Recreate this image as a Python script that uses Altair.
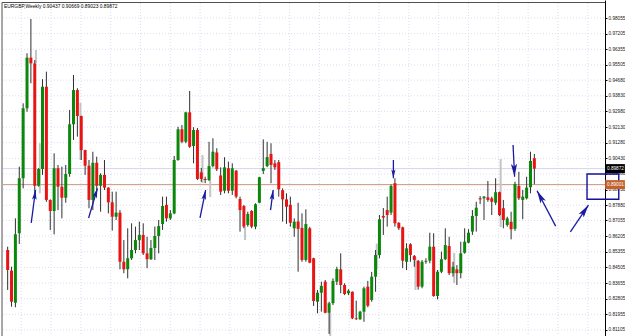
import altair as alt
import pandas as pd

# ---------------- data ----------------
opens = [0.8545, 0.8433, 0.8259, 0.8636, 0.8935, 0.9315, 0.9590, 0.9559, 0.8894, 0.8985,
         0.9432, 0.8817, 0.8757, 0.8989, 0.8889, 0.8829, 0.8958, 0.9228, 0.9414, 0.9273,
         0.9088, 0.9003, 0.8817, 0.9019, 0.8894, 0.8953, 0.8884, 0.8804, 0.8726, 0.8748,
         0.8481, 0.8440, 0.8500, 0.8545, 0.8599, 0.8627, 0.8527, 0.8495, 0.8556, 0.8621,
         0.8686, 0.8790, 0.8717, 0.8744, 0.9034, 0.9201, 0.9133, 0.9293, 0.9110, 0.9197,
         0.8967, 0.8931, 0.8925, 0.9001, 0.9075, 0.8950, 0.8867, 0.8989, 0.8867, 0.8976,
         0.8822, 0.8784, 0.8681, 0.8757, 0.8672, 0.8802, 0.8975, 0.9001, 0.9067, 0.9016,
         0.9022, 0.8870, 0.8820, 0.8790, 0.8663, 0.8700, 0.8665, 0.8491, 0.8663, 0.8500,
         0.8264, 0.8313, 0.8373, 0.8204, 0.8256, 0.8373, 0.8440, 0.8355, 0.8310, 0.8318,
         0.8174, 0.8169, 0.8210, 0.8346, 0.8273, 0.8400, 0.8518, 0.8730, 0.8762, 0.8748,
         0.8908, 0.8693, 0.8668, 0.8481, 0.8576, 0.8513, 0.8486, 0.8346, 0.8481, 0.8487,
         0.8563, 0.8295, 0.8427, 0.8495, 0.8567, 0.8419, 0.8440, 0.8419, 0.8530, 0.8585,
         0.8645, 0.8730, 0.8826, 0.8826, 0.8831, 0.8826, 0.8802, 0.8859, 0.8772, 0.8681,
         0.8699, 0.8660, 0.8893, 0.8817, 0.8826, 0.8886, 0.90437]
highs = [0.8563, 0.8454, 0.8717, 0.8998, 0.9342, 0.9614, 0.9800, 0.9577, 0.8990, 0.9473,
         0.9514, 0.8820, 0.9070, 0.9007, 0.8998, 0.9007, 0.9306, 0.9496, 0.9424, 0.9275,
         0.9090, 0.9034, 0.9079, 0.9052, 0.8962, 0.9034, 0.8886, 0.8862, 0.8862, 0.8762,
         0.8599, 0.8663, 0.8690, 0.8672, 0.8699, 0.8690, 0.8617, 0.8599, 0.8672, 0.8708,
         0.8835, 0.8835, 0.8762, 0.9056, 0.9215, 0.9224, 0.9296, 0.9409, 0.9212, 0.9208,
         0.8991, 0.8943, 0.9133, 0.9152, 0.9098, 0.8994, 0.9049, 0.9025, 0.9016, 0.8980,
         0.8835, 0.8790, 0.8753, 0.8762, 0.8799, 0.8943, 0.9146, 0.9133, 0.9125, 0.9034,
         0.9034, 0.8880, 0.8853, 0.8835, 0.8717, 0.8802, 0.8744, 0.8766, 0.8671, 0.8503,
         0.8328, 0.8373, 0.8382, 0.8264, 0.8391, 0.8454, 0.8527, 0.8364, 0.8332, 0.8320,
         0.8270, 0.8215, 0.8346, 0.8377, 0.8426, 0.8545, 0.8735, 0.8773, 0.8835, 0.8901,
         0.8935, 0.8696, 0.8672, 0.8582, 0.8582, 0.8518, 0.8491, 0.8491, 0.8500, 0.8639,
         0.8636, 0.8436, 0.8536, 0.8663, 0.8617, 0.8481, 0.8463, 0.8590, 0.8663, 0.8658,
         0.8762, 0.8807, 0.8838, 0.8838, 0.8920, 0.8835, 0.8935, 0.8862, 0.8817, 0.8726,
         0.8753, 0.8916, 0.8970, 0.8871, 0.8943, 0.9079, 0.90669]
lows = [0.8328, 0.8237, 0.8234, 0.8578, 0.8880, 0.9296, 0.9451, 0.8853, 0.8889, 0.8953,
        0.8807, 0.8654, 0.8630, 0.8762, 0.8717, 0.8802, 0.8943, 0.9143, 0.9161, 0.9034,
        0.8953, 0.8772, 0.8762, 0.8871, 0.8753, 0.8871, 0.8744, 0.8650, 0.8708, 0.8440,
        0.8419, 0.8391, 0.8491, 0.8527, 0.8545, 0.8518, 0.8446, 0.8491, 0.8491, 0.8527,
        0.8654, 0.8699, 0.8708, 0.8739, 0.9030, 0.9125, 0.9125, 0.9100, 0.9016, 0.8925,
        0.8915, 0.8908, 0.8920, 0.8994, 0.8974, 0.8844, 0.8853, 0.8853, 0.8844, 0.8826,
        0.8645, 0.8663, 0.8672, 0.8663, 0.8658, 0.8799, 0.8958, 0.8995, 0.8908, 0.8980,
        0.8835, 0.8699, 0.8687, 0.8672, 0.8617, 0.8427, 0.8481, 0.8481, 0.8473, 0.8241,
        0.8201, 0.8210, 0.8201, 0.8089, 0.8246, 0.8355, 0.8310, 0.8300, 0.8300, 0.8169,
        0.8165, 0.8165, 0.8155, 0.8234, 0.8264, 0.8318, 0.8500, 0.8627, 0.8672, 0.8735,
        0.8672, 0.8654, 0.8446, 0.8436, 0.8481, 0.8454, 0.8330, 0.8337, 0.8470, 0.8473,
        0.8291, 0.8277, 0.8419, 0.8490, 0.8409, 0.8400, 0.8355, 0.8391, 0.8525, 0.8582,
        0.8627, 0.8645, 0.8795, 0.8708, 0.8807, 0.8735, 0.8790, 0.8730, 0.8663, 0.8672,
        0.8603, 0.8649, 0.8817, 0.8712, 0.8820, 0.8853, 0.89023]
closes = [0.8436, 0.8264, 0.8630, 0.8935, 0.9315, 0.9590, 0.9559, 0.8894, 0.8985, 0.9432,
          0.8817, 0.8757, 0.8989, 0.8889, 0.8829, 0.8958, 0.9228, 0.9414, 0.9273, 0.9088,
          0.9003, 0.8817, 0.9019, 0.8894, 0.8953, 0.8884, 0.8804, 0.8726, 0.8748, 0.8481,
          0.8440, 0.8500, 0.8545, 0.8599, 0.8627, 0.8527, 0.8495, 0.8556, 0.8621, 0.8675,
          0.8784, 0.8717, 0.8744, 0.9034, 0.9201, 0.9133, 0.9293, 0.9106, 0.9197, 0.8931,
          0.8931, 0.8925, 0.9001, 0.9079, 0.8984, 0.8862, 0.8994, 0.8867, 0.8989, 0.8835,
          0.8762, 0.8672, 0.8741, 0.8672, 0.8793, 0.8940, 0.8990, 0.9050, 0.9007, 0.8994,
          0.8875, 0.8820, 0.8780, 0.8693, 0.8699, 0.8660, 0.8491, 0.8686, 0.8476, 0.8268,
          0.8313, 0.8350, 0.8204, 0.8256, 0.8377, 0.8442, 0.8355, 0.8306, 0.8324, 0.8174,
          0.8169, 0.8210, 0.8337, 0.8242, 0.8400, 0.8518, 0.8712, 0.8721, 0.8735, 0.8893,
          0.8690, 0.8663, 0.8487, 0.8554, 0.8518, 0.8491, 0.8346, 0.8481, 0.8486, 0.8563,
          0.8295, 0.8427, 0.8495, 0.8572, 0.8419, 0.8454, 0.8419, 0.8527, 0.8590, 0.8639,
          0.8730, 0.8775, 0.8820, 0.8835, 0.8817, 0.8807, 0.8859, 0.8735, 0.8708, 0.8717,
          0.8658, 0.8904, 0.8826, 0.8835, 0.8884, 0.9029, 0.89872]

# faint grey "ghost" candles seen behind some bars
ghost_bar = [7.3, 8.3, 18.8, 50.3, 52.3, 61.3, 83.3, 95.3, 105.3, 115.3, 127.3]
ghost_top = [0.9632, 0.9125, 0.9344, 0.9061, 0.8925, 0.8670, 0.8203, 0.8580, 0.8507, 0.8529, 0.9039]
ghost_bottom = [0.9561, 0.8853, 0.9034, 0.8909, 0.8833, 0.8599, 0.8073, 0.8440, 0.8328, 0.8366, 0.8670]

tick_values = [0.98055, 0.97205, 0.96355, 0.95505, 0.94680, 0.93830, 0.92980, 0.92130,
               0.91280, 0.90430, 0.89580, 0.88730, 0.87880, 0.87055, 0.86205, 0.85355,
               0.84505, 0.83655, 0.82805, 0.81955, 0.81105]
vgrid_bars = [3.5, 11.2, 18.9, 26.6, 34.3, 42.0, 49.7, 57.4, 65.1, 72.8, 80.5, 88.2,
              95.9, 103.6, 111.3, 119.0, 126.7, 134.4, 142.1, 149.8]

title_text = "EURGBP,Weekly  0.90437 0.90669 0.89023 0.89872"
current_price = 0.89872
level_price = 0.89001

# hand-drawn arrows: tail (bar, price) -> tip (bar, price)
arrow_tail_bar = [6.09, 20.9, 49.67, 67.88, 99.6, 130.5, 141.5, 145.3]
arrow_tail_price = [0.8692, 0.8719, 0.8719, 0.8762, 0.9034, 0.9116, 0.8675, 0.8644]
arrow_tip_bar = [7.19, 23.18, 51.12, 68.56, 99.6, 130.9, 136.7, 149.97]
arrow_tip_price = [0.8871, 0.8880, 0.8871, 0.8871, 0.8935, 0.8943, 0.8867, 0.8789]
arrow_angle = [7.4, 16.7, 11.5, 7.7, 180.0, 177.1, 331.7, 34.4]
arrow_head = [150, 150, 150, 150, 120, 260, 260, 260]

box_bar = [149.6, 157.8]
box_price = [0.8958, 0.8821]

# ---------------- chart ----------------
W, H = 605, 336
xs = alt.Scale(domain=[-0.686, 152.95], nice=False, zero=False)
ys = alt.Scale(domain=[0.80778, 0.99033], nice=False, zero=False)
yax = alt.Axis(orient="right", values=tick_values, format=".5f", labelFontSize=4.7,
               labelFont="Liberation Sans", labelColor="#202020", tickSize=2,
               tickColor="#000000", domainColor="#000000", labelPadding=1,
               grid=False, title=None, labelOverlap=False, labelFlush=False)

n = len(opens)
df = pd.DataFrame({"i": list(range(n)), "open": opens, "high": highs,
                   "low": lows, "close": closes})
df["up"] = [1 if c >= o else 0 for o, c in zip(opens, closes)]

grid_h = alt.Chart(pd.DataFrame({"v": tick_values})).mark_rule(
    color="#dcdcf2", strokeWidth=1, strokeDash=[1, 2]).encode(
    y=alt.Y("v:Q", scale=ys, axis=yax), x=alt.value(3), x2=alt.value(W))

grid_v = alt.Chart(pd.DataFrame({"b": vgrid_bars})).mark_rule(
    color="#dcdcf2", strokeWidth=1, strokeDash=[1, 2]).encode(
    x=alt.X("b:Q", scale=xs, axis=None), y=alt.value(3), y2=alt.value(H))

cur_line = alt.Chart(pd.DataFrame({"p": [current_price]})).mark_rule(
    strokeWidth=1, color="#d4d4f2").encode(
    y=alt.Y("p:Q", scale=ys, axis=yax), x=alt.value(3), x2=alt.value(W))
lvl_line = alt.Chart(pd.DataFrame({"p": [level_price]})).mark_rule(
    strokeWidth=1, color="#c99478").encode(
    y=alt.Y("p:Q", scale=ys, axis=yax), x=alt.value(3), x2=alt.value(W))

ghosts = alt.Chart(pd.DataFrame({"g": ghost_bar, "t": ghost_top, "b": ghost_bottom})).mark_bar(
    width=2, color="#c4c4c4").encode(
    x=alt.X("g:Q", scale=xs, axis=None),
    y=alt.Y("t:Q", scale=ys, axis=yax), y2="b:Q")

wicks = alt.Chart(df).mark_rule(color="#303030", strokeWidth=1).encode(
    x=alt.X("i:Q", scale=xs, axis=None),
    y=alt.Y("low:Q", scale=ys, axis=yax), y2="high:Q")

bodies_up = alt.Chart(df).transform_filter("datum.up == 1").mark_bar(
    width=3, color="#0b870b").encode(
    x=alt.X("i:Q", scale=xs, axis=None),
    y=alt.Y("open:Q", scale=ys, axis=yax), y2="close:Q")
bodies_dn = alt.Chart(df).transform_filter("datum.up == 0").mark_bar(
    width=3, color="#e81414").encode(
    x=alt.X("i:Q", scale=xs, axis=None),
    y=alt.Y("open:Q", scale=ys, axis=yax), y2="close:Q")

adf = pd.DataFrame({"tb": arrow_tail_bar, "tp": arrow_tail_price,
                    "hb": arrow_tip_bar, "hp": arrow_tip_price,
                    "ang": arrow_angle, "sz": arrow_head})
navy = "#1b1ba0"
shafts = alt.Chart(adf).mark_rule(color=navy, strokeWidth=1.3).encode(
    x=alt.X("tb:Q", scale=xs, axis=None), x2="hb:Q",
    y=alt.Y("tp:Q", scale=ys, axis=yax), y2="hp:Q")
heads = alt.Chart(adf).mark_point(
    filled=True, color=navy, opacity=1,
    shape="M0,0L0.38,1.6L0,1.25L-0.38,1.6Z").encode(
    x=alt.X("hb:Q", scale=xs, axis=None),
    y=alt.Y("hp:Q", scale=ys, axis=yax),
    angle=alt.Angle("ang:Q", scale=None),
    size=alt.Size("sz:Q", scale=None, legend=None))

box = alt.Chart(pd.DataFrame({"b1": [box_bar[0]], "b2": [box_bar[1]],
                              "p1": [box_price[0]], "p2": [box_price[1]]})).mark_rect(
    fillOpacity=0, stroke="#12129c", strokeWidth=1.4).encode(
    x=alt.X("b1:Q", scale=xs, axis=None), x2="b2:Q",
    y=alt.Y("p1:Q", scale=ys, axis=yax), y2="p2:Q")

def price_tag(price, fill):
    d = pd.DataFrame({"p": [price], "t": ["%.5f" % price]})
    bg = alt.Chart(d).mark_point(
        filled=True, opacity=1, color=fill,
        shape="M-1.1,-0.5H1.1V0.5H-1.1Z", size=324).encode(
        x=alt.value(615), y=alt.Y("p:Q", scale=ys, axis=yax))
    tx = alt.Chart(d).mark_text(
        font="Liberation Sans", fontSize=4.7, color="white", align="left",
        baseline="middle").encode(
        x=alt.value(607), y=alt.Y("p:Q", scale=ys, axis=yax), text="t:N")
    return bg + tx

cur_tag = price_tag(current_price, "#000000")
lvl_tag = price_tag(level_price, "#c4602c")

title = alt.Chart(pd.DataFrame({"t": [title_text]})).mark_text(
    font="Liberation Sans", fontSize=4.9, color="#000000", align="left",
    baseline="middle").encode(x=alt.value(4), y=alt.value(6.5), text="t:N")

frame_top = alt.Chart(pd.DataFrame({"a": [0]})).mark_rule(color="#505050").encode(
    x=alt.value(2), x2=alt.value(W), y=alt.value(2.5))
frame_left = alt.Chart(pd.DataFrame({"a": [0]})).mark_rule(color="#505050").encode(
    x=alt.value(2), y=alt.value(2.5), y2=alt.value(H))

chart = alt.layer(
    grid_h, grid_v, cur_line, lvl_line, ghosts, wicks, bodies_up, bodies_dn, shafts,
    heads, box, cur_tag, lvl_tag, title, frame_top, frame_left
).properties(
    width=W, height=H,
    padding={"left": 0, "top": 0, "right": 20, "bottom": 0},
    autosize="none", background="white"
).configure_view(stroke=None)

chart.save("out.html", embed_options={"renderer": "svg", "actions": False})
